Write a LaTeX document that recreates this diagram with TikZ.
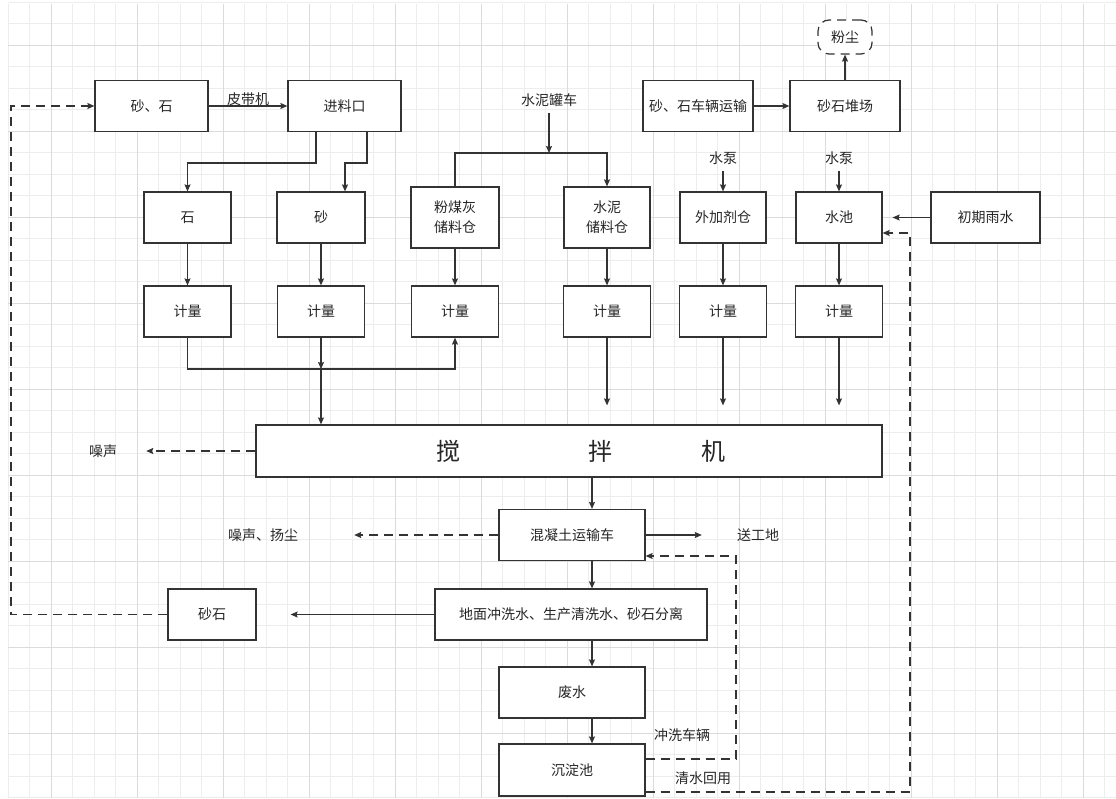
\documentclass[tikz,border=0pt]{standalone}
\usepackage{fontspec}
\setmainfont{Noto Sans CJK SC}
\usetikzlibrary{arrows.meta}

\begin{document}
\begin{tikzpicture}[x=1pt,y=-1pt,
  box/.style={draw=black!80,line width=1.2pt,fill=white,inner sep=0pt,minimum height=51pt,
    text=black!85,font=\fontsize{14}{20}\selectfont,align=center},
  lbl/.style={text=black!85,font=\fontsize{14}{18}\selectfont,inner sep=0pt},
  big/.style={text=black!85,font=\fontsize{24}{28}\selectfont,inner sep=0pt},
  plain/.style={draw=black!80,line width=1.2pt},
  flow/.style={plain,-{Stealth[length=7pt,width=6pt,inset=1pt]}},
  dashflow/.style={flow,dash pattern=on 9pt off 6pt},
  gridminor/.style={draw=black!7,line width=0.8pt},
  gridmajor/.style={draw=black!14,line width=0.9pt}]

\useasboundingbox (0,0) rectangle (1116,798);

\foreach \k in {0,...,51} {
\draw[gridminor] ({8+21.5*\k},4) -- ({8+21.5*\k},798);
}
\foreach \k in {0,...,37} {
\draw[gridminor] (8,{2+21.5*\k}) -- (1116,{2+21.5*\k});
}
\foreach \k in {2,6,...,50} {
\draw[gridmajor] ({8+21.5*\k},4) -- ({8+21.5*\k},798);
}
\foreach \k in {2,6,...,34} {
\draw[gridmajor] (8,{2+21.5*\k}) -- (1116,{2+21.5*\k});
}

\node[box,minimum width=113pt] (sashi) at (151.5,106) {砂、石};
\node[box,minimum width=113pt] (jinliao) at (344.5,106) {进料口};
\node[box,minimum width=110pt] (yunshu) at (698,106) {砂、石车辆运输};
\node[box,minimum width=110pt] (duichang) at (845,106) {砂石堆场};
\node[box,minimum width=54pt,minimum height=34pt,rounded corners=11pt,dash pattern=on 9pt off 6pt] (fenchen) at (845,37) {粉尘};

\node[box,minimum width=87pt] (shi) at (187.5,217.5) {石};
\node[box,minimum width=88pt] (sha) at (321,217.5) {砂};
\node[box,minimum width=88pt,minimum height=61pt] (fmh) at (455,217.5) {粉煤灰\\储料仓};
\node[box,minimum width=86pt,minimum height=61pt] (shuini) at (607,217.5) {水泥\\储料仓};
\node[box,minimum width=86pt] (wjj) at (723,217.5) {外加剂仓};
\node[box,minimum width=86pt] (shuichi) at (839,217.5) {水池};
\node[box,minimum width=109pt] (yushui) at (985.5,217.5) {初期雨水};

\foreach \n/\x in {jl1/187.5,jl2/321,jl3/455,jl4/607,jl5/723,jl6/839} {
\node[box,minimum width=87pt] (\n) at (\x,311.5) {计量};
}

\node[box,minimum width=626pt,minimum height=52pt] (mixer) at (569,451) {};
\node[big] (mixa) at (448,451) {搅};
\node[big] (mixb) at (600,451) {拌};
\node[big] (mixc) at (713,451) {机};

\node[box,minimum width=146pt] (truck) at (572,535) {混凝土运输车};
\node[box,minimum width=272pt] (wash) at (571,614.5) {地面冲洗水、生产清洗水、砂石分离};
\node[box,minimum width=88pt] (sashi2) at (212,614.5) {砂石};
\node[box,minimum width=146pt] (feishui) at (572,692.5) {废水};
\node[box,minimum width=146pt,minimum height=52pt] (chendian) at (572,770) {沉淀池};

\node[lbl] (belt) at (248,99) {皮带机};
\node[lbl] (tanker) at (549,100) {水泥罐车};
\node[lbl] (pump1) at (723,158) {水泵};
\node[lbl] (pump2) at (839,158) {水泵};
\node[lbl] (noise) at (103,451) {噪声};
\node[lbl] (noisedust) at (263,535) {噪声、扬尘};
\node[lbl] (site) at (758,535) {送工地};
\node[lbl] (rinse) at (682,735) {冲洗车辆};
\node[lbl] (reuse) at (703,778) {清水回用};

\coordinate (tankj) at (549,153);
\coordinate (merge) at (321,369);
\coordinate (spine) at (592,0);
\coordinate (leftrail) at (11,0);

\draw[flow] (sashi) -- (jinliao);
\draw[flow] (316,0 |- jinliao.south) -- (316,163) -| (shi);
\draw[flow] (367,0 |- jinliao.south) -- (367,163) -| (345,0 |- sha.north);
\draw[flow,shorten <=6pt] (tanker) -- (tankj);
\draw[flow] (fmh.north) |- (tankj) -| (shuini);
\draw[flow] (yunshu) -- (duichang);
\draw[flow] (duichang) -- (fenchen);
\draw[flow,shorten <=6pt] (pump1) -- (wjj);
\draw[flow,shorten <=6pt] (pump2) -- (shuichi);
\draw[flow,shorten >=10pt] (yushui) -- (shuichi);

\draw[flow] (shi) -- (jl1);
\draw[flow] (sha) -- (jl2);
\draw[flow] (fmh) -- (jl3);
\draw[flow] (shuini) -- (jl4);
\draw[flow] (wjj) -- (jl5);
\draw[flow] (shuichi) -- (jl6);

\draw[flow] (jl1) |- (jl3 |- merge) -- (jl3);
\draw[flow] (jl2) -- (merge);
\draw[flow] (merge) -- (mixer.north -| merge);
\foreach \n in {jl4,jl5,jl6} {
\draw[flow,shorten >=19pt] (\n) -- (mixer.north -| \n);
}
\draw[dashflow,shorten >=29pt] (mixer) -- (noise);

\draw[flow] (mixer.south -| spine) -- (truck.north -| spine);
\draw[flow] (truck.south -| spine) -- (wash.north -| spine);
\draw[flow] (wash.south -| spine) -- (feishui.north -| spine);
\draw[flow] (feishui.south -| spine) -- (chendian.north -| spine);

\draw[dashflow,shorten >=56pt] (truck) -- (noisedust);
\draw[flow,shorten >=35pt] (truck) -- (site);
\draw[flow,shorten >=34pt] (wash) -- (sashi2);
\draw[dashflow] (sashi2.west) -- (leftrail |- sashi2.west) |- (sashi);

\draw[dashflow] (chendian.east |- 0,759) -| (736,556) -- (truck.east |- 0,556);
\draw[dashflow] (chendian.east |- 0,792) -| (910,233) -- (shuichi.east |- 0,233);

\end{tikzpicture}
\end{document}
